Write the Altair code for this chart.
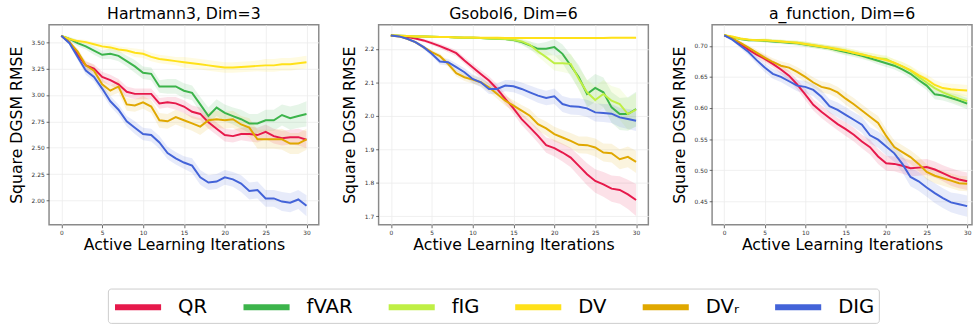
import altair as alt
import pandas as pd

ITERATIONS = list(range(31))
METHODS = ["QR", "fVAR", "fIG", "DV", "DVᵣ", "DIG"]
COLORS = ["#e6194b", "#3cb44b", "#bfef45", "#ffe119", "#e0a800", "#4363d8"]

# ---- Hartmann3, Dim=3 -------------------------------------------------------
hart_qr = [3.56, 3.50, 3.38, 3.28, 3.25, 3.17, 3.14, 3.10, 3.03, 3.01, 3.01, 3.01, 2.92, 2.93, 2.92, 2.89,
           2.84, 2.82, 2.74, 2.68, 2.62, 2.61, 2.63, 2.63, 2.62, 2.65, 2.61, 2.59, 2.60, 2.60, 2.575]
hart_qr_sd = [0.01, 0.02, 0.03, 0.04, 0.04, 0.05, 0.05, 0.05, 0.05, 0.05, 0.05, 0.05, 0.05, 0.05, 0.06, 0.06,
              0.06, 0.06, 0.06, 0.06, 0.06, 0.06, 0.06, 0.07, 0.07, 0.07, 0.07, 0.07, 0.07, 0.08, 0.08]
hart_fvar = [3.56, 3.53, 3.49, 3.46, 3.42, 3.38, 3.39, 3.37, 3.32, 3.27, 3.21, 3.20, 3.08, 3.08, 3.08, 3.04,
             3.02, 2.91, 2.80, 2.88, 2.83, 2.80, 2.77, 2.73, 2.73, 2.76, 2.76, 2.81, 2.78, 2.80, 2.82]
hart_fvar_sd = [0.01, 0.02, 0.03, 0.03, 0.04, 0.04, 0.05, 0.05, 0.05, 0.06, 0.06, 0.06, 0.06, 0.07, 0.07, 0.07,
                0.07, 0.07, 0.08, 0.08, 0.08, 0.08, 0.09, 0.09, 0.09, 0.10, 0.10, 0.10, 0.11, 0.11, 0.12]
hart_dv = [3.56, 3.53, 3.51, 3.50, 3.48, 3.46, 3.45, 3.43, 3.42, 3.40, 3.39, 3.36, 3.34, 3.33, 3.32, 3.31,
           3.30, 3.29, 3.28, 3.27, 3.26, 3.26, 3.265, 3.27, 3.275, 3.28, 3.28, 3.29, 3.29, 3.30, 3.31]
hart_dv_sd = [0.01, 0.01, 0.02, 0.02, 0.02, 0.03, 0.03, 0.03, 0.03, 0.04, 0.04, 0.04, 0.04, 0.04, 0.04, 0.05,
              0.05, 0.05, 0.05, 0.05, 0.05, 0.05, 0.05, 0.05, 0.05, 0.06, 0.06, 0.06, 0.06, 0.06, 0.06]
hart_dvr = [3.56, 3.50, 3.41, 3.28, 3.23, 3.10, 3.04, 3.08, 2.91, 2.90, 2.93, 2.89, 2.76, 2.75, 2.79, 2.76,
            2.73, 2.70, 2.76, 2.77, 2.76, 2.77, 2.72, 2.69, 2.58, 2.58, 2.58, 2.58, 2.54, 2.54, 2.58]
hart_dvr_sd = [0.01, 0.02, 0.03, 0.04, 0.05, 0.05, 0.05, 0.06, 0.06, 0.06, 0.06, 0.06, 0.07, 0.07, 0.07, 0.07,
               0.07, 0.08, 0.08, 0.08, 0.08, 0.08, 0.08, 0.09, 0.09, 0.09, 0.09, 0.10, 0.10, 0.10, 0.10]
hart_dig = [3.56, 3.49, 3.36, 3.23, 3.17, 3.06, 2.94, 2.86, 2.75, 2.69, 2.63, 2.62, 2.55, 2.45, 2.40, 2.36,
            2.33, 2.22, 2.17, 2.18, 2.22, 2.20, 2.16, 2.09, 2.10, 2.02, 2.02, 1.99, 1.98, 2.01, 1.95]
hart_dig_sd = [0.01, 0.02, 0.03, 0.04, 0.04, 0.05, 0.05, 0.05, 0.05, 0.06, 0.06, 0.06, 0.06, 0.06, 0.06, 0.06,
               0.07, 0.07, 0.07, 0.07, 0.07, 0.07, 0.08, 0.08, 0.08, 0.08, 0.08, 0.09, 0.09, 0.09, 0.10]

# ---- Gsobol6, Dim=6 ---------------------------------------------------------
gsob_qr = [2.240, 2.238, 2.235, 2.231, 2.225, 2.217, 2.208, 2.198, 2.187, 2.165, 2.145, 2.125, 2.105, 2.080,
           2.050, 2.022, 1.990, 1.965, 1.940, 1.912, 1.903, 1.890, 1.875, 1.850, 1.825, 1.805, 1.795, 1.782,
           1.778, 1.765, 1.748]
gsob_qr_sd = [0.001, 0.002, 0.003, 0.004, 0.005, 0.006, 0.007, 0.008, 0.009, 0.010, 0.011, 0.012, 0.013, 0.014,
              0.015, 0.016, 0.018, 0.019, 0.021, 0.023, 0.025, 0.027, 0.029, 0.031, 0.033, 0.035, 0.037, 0.039,
              0.041, 0.044, 0.048]
gsob_fvar = [2.240, 2.239, 2.238, 2.237, 2.237, 2.236, 2.235, 2.235, 2.234, 2.233, 2.233, 2.232, 2.231, 2.230,
             2.229, 2.226, 2.220, 2.210, 2.200, 2.200, 2.205, 2.185, 2.150, 2.115, 2.065, 2.083, 2.070, 2.025,
             2.005, 2.005, 2.020]
gsob_fvar_sd = [0.001, 0.001, 0.001, 0.001, 0.002, 0.002, 0.002, 0.002, 0.002, 0.002, 0.003, 0.003, 0.003, 0.003,
                0.004, 0.005, 0.008, 0.012, 0.016, 0.020, 0.024, 0.028, 0.032, 0.036, 0.040, 0.042, 0.044, 0.046,
                0.048, 0.050, 0.052]
gsob_fig = [2.240, 2.239, 2.238, 2.237, 2.237, 2.236, 2.235, 2.235, 2.234, 2.233, 2.233, 2.232, 2.231, 2.230,
            2.229, 2.227, 2.222, 2.212, 2.192, 2.175, 2.157, 2.157, 2.155, 2.110, 2.070, 2.047, 2.065, 2.045,
            2.035, 2.005, 2.018]
gsob_fig_sd = [0.001, 0.001, 0.001, 0.001, 0.002, 0.002, 0.002, 0.002, 0.002, 0.002, 0.003, 0.003, 0.003, 0.003,
               0.004, 0.005, 0.008, 0.011, 0.015, 0.019, 0.022, 0.026, 0.030, 0.034, 0.038, 0.040, 0.042, 0.044,
               0.046, 0.048, 0.050]
gsob_dv = [2.240, 2.239, 2.238, 2.237, 2.237, 2.236, 2.235, 2.235, 2.234, 2.234, 2.234, 2.233, 2.233, 2.233,
           2.232, 2.232, 2.232, 2.232, 2.232, 2.232, 2.232, 2.232, 2.232, 2.232, 2.232, 2.232, 2.232, 2.233,
           2.233, 2.233, 2.233]
gsob_dv_sd = [0.001, 0.001, 0.001, 0.002, 0.002, 0.002, 0.002, 0.002, 0.002, 0.002, 0.002, 0.002, 0.002, 0.003,
              0.003, 0.003, 0.003, 0.003, 0.003, 0.003, 0.003, 0.003, 0.003, 0.003, 0.003, 0.003, 0.003, 0.003,
              0.003, 0.003, 0.003]
gsob_dvr = [2.240, 2.237, 2.230, 2.220, 2.205, 2.190, 2.178, 2.155, 2.127, 2.115, 2.108, 2.100, 2.085, 2.065,
            2.045, 2.030, 2.015, 2.000, 1.975, 1.962, 1.945, 1.935, 1.925, 1.913, 1.912, 1.905, 1.890, 1.888,
            1.870, 1.877, 1.862]
gsob_dvr_sd = [0.001, 0.002, 0.003, 0.004, 0.005, 0.006, 0.008, 0.009, 0.010, 0.011, 0.012, 0.012, 0.013, 0.014,
               0.015, 0.016, 0.017, 0.019, 0.020, 0.021, 0.022, 0.022, 0.023, 0.025, 0.026, 0.027, 0.027, 0.028,
               0.030, 0.031, 0.033]
gsob_dig = [2.240, 2.237, 2.230, 2.220, 2.205, 2.185, 2.162, 2.160, 2.145, 2.130, 2.110, 2.100, 2.080, 2.080,
            2.090, 2.088, 2.080, 2.070, 2.060, 2.053, 2.058, 2.035, 2.028, 2.027, 2.022, 2.010, 2.008, 2.006,
            1.995, 1.990, 1.985]
gsob_dig_sd = [0.001, 0.002, 0.003, 0.004, 0.006, 0.007, 0.009, 0.010, 0.011, 0.012, 0.013, 0.014, 0.015, 0.016,
               0.017, 0.018, 0.019, 0.020, 0.021, 0.022, 0.023, 0.024, 0.024, 0.025, 0.026, 0.027, 0.027, 0.028,
               0.029, 0.030, 0.031]

# ---- a_function, Dim=6 ------------------------------------------------------
afun_qr = [0.717, 0.712, 0.703, 0.694, 0.686, 0.679, 0.671, 0.662, 0.652, 0.638, 0.622, 0.605, 0.594, 0.584,
           0.574, 0.566, 0.557, 0.546, 0.537, 0.522, 0.511, 0.510, 0.507, 0.503, 0.504, 0.505, 0.501, 0.495,
           0.489, 0.485, 0.482]
afun_qr_sd = [0.001, 0.002, 0.003, 0.004, 0.005, 0.006, 0.006, 0.007, 0.008, 0.008, 0.009, 0.009, 0.010, 0.010,
              0.010, 0.011, 0.011, 0.011, 0.012, 0.012, 0.012, 0.012, 0.013, 0.013, 0.013, 0.013, 0.013, 0.013,
              0.014, 0.014, 0.014]
afun_fvar = [0.717, 0.714, 0.711, 0.709, 0.709, 0.708, 0.707, 0.706, 0.705, 0.704, 0.702, 0.700, 0.698, 0.696,
             0.693, 0.690, 0.687, 0.684, 0.680, 0.676, 0.672, 0.668, 0.662, 0.655, 0.645, 0.636, 0.622, 0.620,
             0.616, 0.612, 0.607]
afun_fvar_sd = [0.001, 0.001, 0.002, 0.002, 0.002, 0.003, 0.003, 0.003, 0.003, 0.004, 0.004, 0.004, 0.004, 0.004,
                0.005, 0.005, 0.005, 0.005, 0.005, 0.006, 0.006, 0.006, 0.006, 0.007, 0.007, 0.007, 0.008, 0.008,
                0.008, 0.009, 0.009]
afun_fig = [0.717, 0.714, 0.711, 0.710, 0.709, 0.709, 0.708, 0.707, 0.706, 0.705, 0.703, 0.701, 0.699, 0.697,
            0.694, 0.692, 0.689, 0.686, 0.683, 0.680, 0.679, 0.672, 0.667, 0.660, 0.650, 0.641, 0.632, 0.625,
            0.620, 0.615, 0.611]
afun_fig_sd = [0.001, 0.001, 0.002, 0.002, 0.002, 0.003, 0.003, 0.003, 0.003, 0.003, 0.004, 0.004, 0.004, 0.004,
               0.005, 0.005, 0.005, 0.005, 0.006, 0.006, 0.006, 0.006, 0.007, 0.007, 0.007, 0.008, 0.008, 0.008,
               0.009, 0.009, 0.009]
afun_dv = [0.717, 0.715, 0.712, 0.710, 0.709, 0.709, 0.708, 0.707, 0.706, 0.705, 0.703, 0.701, 0.699, 0.697,
           0.695, 0.692, 0.689, 0.686, 0.683, 0.680, 0.677, 0.673, 0.667, 0.661, 0.653, 0.646, 0.637, 0.632,
           0.630, 0.629, 0.628]
afun_dv_sd = [0.001, 0.001, 0.002, 0.002, 0.002, 0.003, 0.003, 0.003, 0.003, 0.003, 0.004, 0.004, 0.004, 0.004,
              0.005, 0.005, 0.005, 0.005, 0.006, 0.006, 0.006, 0.006, 0.007, 0.007, 0.007, 0.008, 0.008, 0.008,
              0.009, 0.009, 0.009]
afun_dvr = [0.717, 0.712, 0.705, 0.697, 0.689, 0.681, 0.674, 0.668, 0.665, 0.658, 0.650, 0.641, 0.634, 0.631,
            0.625, 0.615, 0.606, 0.596, 0.586, 0.576, 0.555, 0.537, 0.529, 0.521, 0.510, 0.497, 0.491, 0.487,
            0.483, 0.479, 0.478]
afun_dvr_sd = [0.001, 0.002, 0.003, 0.004, 0.005, 0.006, 0.006, 0.007, 0.007, 0.008, 0.008, 0.008, 0.009, 0.009,
               0.009, 0.010, 0.010, 0.010, 0.010, 0.011, 0.011, 0.011, 0.011, 0.011, 0.012, 0.012, 0.012, 0.012,
               0.012, 0.012, 0.012]
afun_dig = [0.717, 0.710, 0.700, 0.690, 0.677, 0.665, 0.655, 0.650, 0.643, 0.636, 0.634, 0.629, 0.618, 0.603,
            0.597, 0.589, 0.581, 0.573, 0.556, 0.549, 0.538, 0.527, 0.510, 0.489, 0.482, 0.472, 0.463, 0.455,
            0.448, 0.445, 0.442]
afun_dig_sd = [0.001, 0.002, 0.004, 0.005, 0.006, 0.007, 0.008, 0.008, 0.009, 0.009, 0.010, 0.010, 0.011, 0.011,
               0.012, 0.012, 0.012, 0.013, 0.013, 0.013, 0.014, 0.014, 0.014, 0.015, 0.015, 0.015, 0.016, 0.016,
               0.016, 0.017, 0.017]

PANELS = [
    {
        "title": "Hartmann3, Dim=3",
        "series": {"QR": (hart_qr, hart_qr_sd), "fVAR": (hart_fvar, hart_fvar_sd),
                   "DV": (hart_dv, hart_dv_sd), "DVᵣ": (hart_dvr, hart_dvr_sd),
                   "DIG": (hart_dig, hart_dig_sd)},
        "ydomain": [1.77, 3.665], "yticks": [2.00, 2.25, 2.50, 2.75, 3.00, 3.25, 3.50],
        "yformat": ".2f", "xdomain": [-1.5, 31.5], "width": 275,
    },
    {
        "title": "Gsobol6, Dim=6",
        "series": {"QR": (gsob_qr, gsob_qr_sd), "fVAR": (gsob_fvar, gsob_fvar_sd),
                   "fIG": (gsob_fig, gsob_fig_sd), "DV": (gsob_dv, gsob_dv_sd),
                   "DVᵣ": (gsob_dvr, gsob_dvr_sd), "DIG": (gsob_dig, gsob_dig_sd)},
        "ydomain": [1.674, 2.272], "yticks": [1.7, 1.8, 1.9, 2.0, 2.1, 2.2],
        "yformat": ".1f", "xdomain": [-1.5, 31.5], "width": 275,
    },
    {
        "title": "a_function, Dim=6",
        "series": {"QR": (afun_qr, afun_qr_sd), "fVAR": (afun_fvar, afun_fvar_sd),
                   "fIG": (afun_fig, afun_fig_sd), "DV": (afun_dv, afun_dv_sd),
                   "DVᵣ": (afun_dvr, afun_dvr_sd), "DIG": (afun_dig, afun_dig_sd)},
        "ydomain": [0.412, 0.734], "yticks": [0.45, 0.50, 0.55, 0.60, 0.65, 0.70],
        "yformat": ".2f", "xdomain": [-1.5, 30.6], "width": 265,
    },
]

color_scale = alt.Scale(domain=METHODS, range=COLORS)
# A wide horizontal stroke as the legend swatch: the path spans 4 symbol units,
# starting at the left edge of the nominal symbol box.
legend = alt.Legend(
    title=None, orient="none", legendX=60, legendY=269, direction="horizontal", columns=6,
    symbolType="M-1,0H3", symbolStrokeWidth=6, symbolSize=552, symbolOpacity=1,
    symbolFillColor="transparent",
    labelFontSize=20, labelFont="DejaVu Sans", labelColor="#000000", labelOffset=37.5,
    columnPadding=24, padding=4, strokeColor="#cccccc", fillColor="#ffffff", cornerRadius=3,
)


def make_panel(spec):
    rows = []
    for order, name in enumerate(METHODS):
        if name not in spec["series"]:
            continue
        mean, sd = spec["series"][name]
        for it, m, s in zip(ITERATIONS, mean, sd):
            rows.append({"iter": it, "method": name, "order": order,
                         "mean": m, "lo": m - s, "hi": m + s})
    df = pd.DataFrame(rows)

    x = alt.X("iter:Q", scale=alt.Scale(domain=spec["xdomain"], nice=False, zero=False),
              axis=alt.Axis(values=[0, 5, 10, 15, 20, 25, 30], format="d",
                            title="Active Learning Iterations"))
    y_scale = alt.Scale(domain=spec["ydomain"], nice=False, zero=False)
    y_axis = alt.Axis(values=spec["yticks"], format=spec["yformat"], title="Square DGSM RMSE")
    color = alt.Color("method:N", scale=color_scale, legend=legend)

    band = alt.Chart(df).mark_area(opacity=0.13, clip=True).encode(
        x=x,
        y=alt.Y("lo:Q", scale=y_scale, axis=y_axis),
        y2="hi:Q",
        color=color,
        order="order:Q",
    )
    line = alt.Chart(df).mark_line(strokeWidth=2, clip=True).encode(
        x=x,
        y=alt.Y("mean:Q", scale=y_scale, axis=y_axis),
        color=color,
        order="iter:Q",
    )
    return alt.layer(band, line).properties(
        width=spec["width"], height=204,
        title=alt.TitleParams(spec["title"], fontSize=16, font="DejaVu Sans", fontWeight="normal",
                              color="#000000", offset=3),
    )


chart = alt.hconcat(*[make_panel(p) for p in PANELS], spacing=21).properties(
    padding={"left": 7, "top": 2, "right": 0, "bottom": 0},
    background="#ffffff",
).configure_view(
    stroke="#8a8a8a", strokeWidth=1.5,
).configure_axis(
    labelFont="DejaVu Sans", labelFontSize=6, labelColor="#333333",
    titleFont="DejaVu Sans", titleFontSize=16, titleFontWeight="normal", titleColor="#000000",
    tickSize=3, tickColor="#444444", tickWidth=0.8, domain=False,
    gridColor="#ececec", gridWidth=0.8,
).configure_axisY(
    labelPadding=2, titlePadding=7,
).configure_axisX(
    labelPadding=2, titlePadding=1,
)

chart.save("out.html", embed_options={"renderer": "svg", "actions": False})
